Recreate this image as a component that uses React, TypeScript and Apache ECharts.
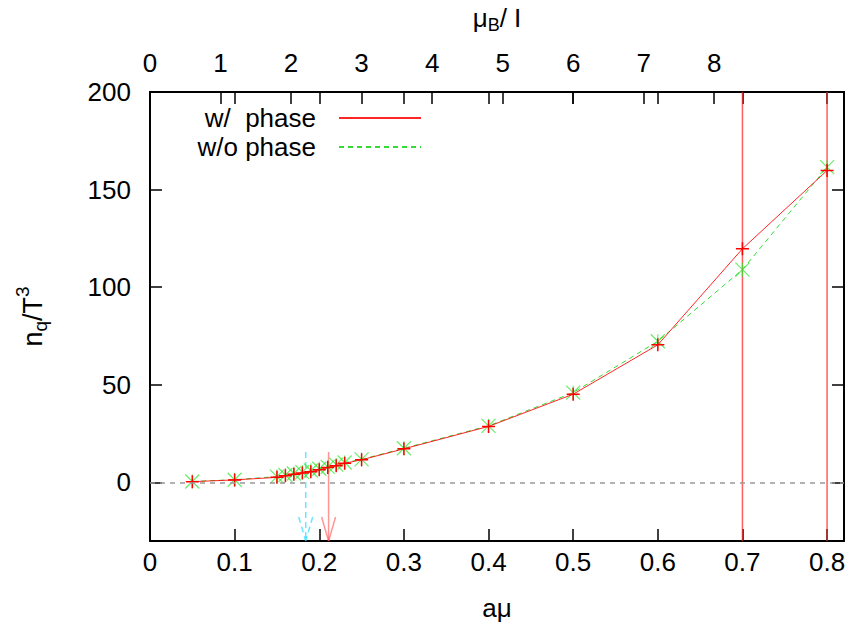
import React, { useEffect, useRef } from "react";
import * as echarts from "echarts";

// ---- data ----
const aMu = [0.05, 0.1, 0.15, 0.16, 0.17, 0.18, 0.19, 0.2, 0.21, 0.22, 0.23, 0.25, 0.3, 0.4, 0.5, 0.6, 0.7, 0.8];
const withPhase = [0.4, 1.3, 2.6, 3.4, 4.2, 4.8, 5.5, 6.5, 7.6, 8.6, 9.8, 11.6, 17.2, 28.7, 45.2, 70.5, 119.7, 159.8];
const withPhaseErr = [0, 0, 0, 0, 0, 0, 0, 0, 0, 0, 0, 0, 0, 0, 0, 0, 200, 250];
const withoutPhase = [0.5, 1.4, 3.0, 3.8, 4.6, 5.3, 6.1, 7.0, 8.0, 9.1, 10.2, 11.8, 17.5, 29.0, 46.0, 72.3, 109.0, 161.5];

const xTicks = [0, 0.1, 0.2, 0.3, 0.4, 0.5, 0.6, 0.7, 0.8];
const muBTicks = [0, 1, 2, 3, 4, 5, 6, 7, 8];
const yTicks = [0, 50, 100, 150, 200];
const xRange = [0, 0.82];
const yRange = [-30, 200];
const muBPerAMu = 12;

// critical-point arrows: x, top y
const arrowX = [0.184, 0.211];
const arrowTop = [15.6, 15.6];

const FONT = '"Liberation Sans", Arial, Helvetica, sans-serif';
const FS = 26;

export default function App() {
  const ref = useRef<HTMLDivElement>(null);

  useEffect(() => {
    document.body.style.margin = "0";
    if (!ref.current) return;
    const chart = echarts.init(ref.current, null, { renderer: "svg" });

    const axisLine = { show: true, onZero: false, lineStyle: { color: "#000", width: 2 } };
    const tickStyle = { color: "#000", width: 1.5 };
    const lblStyle = { fontSize: FS, color: "#000", fontFamily: FONT };

    const arrowColors = ["rgba(0,215,255,0.6)", "rgba(255,80,80,0.6)"];
    const arrowDash: any[] = [[6, 4], null];

    const option: any = {
      animation: false,
      backgroundColor: "#fff",
      grid: { left: 150, top: 91, width: 694, height: 450, containLabel: false },
      legend: {
        orient: "vertical",
        right: 425,
        top: 100,
        align: "right",
        itemWidth: 82,
        itemHeight: 10,
        itemGap: 3,
        selectedMode: false,
        data: ["w/  phase", "w/o phase"],
        textStyle: { fontSize: FS, fontFamily: FONT, color: "#000", padding: [0, 18, 0, 0], lineHeight: 26 },
        itemStyle: { color: "transparent", borderColor: "transparent", borderWidth: 0 },
      },
      xAxis: [
        {
          type: "value",
          min: xRange[0],
          max: xRange[1],
          position: "bottom",
          name: "aμ",
          nameLocation: "middle",
          nameGap: 54,
          nameTextStyle: { ...lblStyle },
          axisLine,
          axisTick: { show: true, inside: true, length: 12, lineStyle: tickStyle, customValues: xTicks },
          axisLabel: { ...lblStyle, margin: 8, customValues: xTicks, formatter: (v: number) => String(+v.toFixed(2)) },
          splitLine: { show: false },
        },
        {
          type: "value",
          min: xRange[0] * muBPerAMu,
          max: xRange[1] * muBPerAMu,
          position: "top",
          name: "μ{sub|B}/ I",
          nameLocation: "middle",
          nameGap: 58,
          nameTextStyle: {
            ...lblStyle,
            rich: { sub: { fontSize: 18, fontFamily: FONT, color: "#000", padding: [14, 0, 0, 0] } },
          },
          axisLine,
          axisTick: { show: true, inside: true, length: 12, lineStyle: tickStyle, customValues: muBTicks },
          axisLabel: { ...lblStyle, margin: 16, customValues: muBTicks },
          splitLine: { show: false },
        },
        {
          type: "value",
          min: xRange[0],
          max: xRange[1],
          position: "top",
          axisLine,
          axisTick: { show: true, inside: true, length: 12, lineStyle: tickStyle, customValues: xTicks },
          axisLabel: { show: false },
          splitLine: { show: false },
        },
      ],
      yAxis: [
        {
          type: "value",
          min: yRange[0],
          max: yRange[1],
          position: "left",
          name: "n{sub|q}/T{sup|3}",
          nameLocation: "middle",
          nameRotate: 90,
          nameGap: 98,
          nameTextStyle: {
            ...lblStyle,
            fontSize: 27,
            rich: {
              sub: { fontSize: 19, fontFamily: FONT, color: "#000", padding: [15, 0, 0, 0] },
              sup: { fontSize: 19, fontFamily: FONT, color: "#000", padding: [0, 0, 20, 0] },
            },
          },
          axisLine,
          axisTick: { show: true, inside: true, length: 12, lineStyle: tickStyle, customValues: yTicks },
          axisLabel: { ...lblStyle, margin: 19, customValues: yTicks },
          splitLine: { show: false },
        },
        {
          type: "value",
          min: yRange[0],
          max: yRange[1],
          position: "right",
          axisLine,
          axisTick: { show: true, inside: true, length: 12, lineStyle: tickStyle, customValues: yTicks },
          axisLabel: { show: false },
          splitLine: { show: false },
        },
      ],
      series: [
        {
          type: "custom",
          name: "arrows",
          xAxisIndex: 0,
          yAxisIndex: 0,
          silent: true,
          z: 1,
          data: arrowX.map((x, i) => [x, arrowTop[i], yRange[0]]),
          renderItem: (params: any, api: any) => {
            const x = api.value(0);
            const p1 = api.coord([x, api.value(1)]);
            const p2 = api.coord([x, api.value(2)]);
            const i = params.dataIndex;
            const style: any = { stroke: arrowColors[i], lineWidth: 1.5, fill: "none" };
            if (arrowDash[i]) style.lineDash = arrowDash[i];
            return {
              type: "group",
              children: [
                { type: "line", shape: { x1: p1[0], y1: p1[1], x2: p2[0], y2: p2[1] }, style },
                { type: "line", shape: { x1: p2[0] - 7, y1: p2[1] - 24, x2: p2[0], y2: p2[1] }, style },
                { type: "line", shape: { x1: p2[0] + 7, y1: p2[1] - 24, x2: p2[0], y2: p2[1] }, style },
              ],
            };
          },
        },
        {
          type: "custom",
          name: "errors",
          xAxisIndex: 0,
          yAxisIndex: 0,
          silent: true,
          z: 2,
          data: aMu
            .map((x, i) => [x, withPhase[i] - withPhaseErr[i], withPhase[i] + withPhaseErr[i], withPhaseErr[i]])
            .filter((d) => d[3] > 0),
          renderItem: (params: any, api: any) => {
            const cs = params.coordSys;
            const x = api.value(0);
            const lo = api.coord([x, api.value(1)]);
            const hi = api.coord([x, api.value(2)]);
            const clampY = (y: number) => Math.max(cs.y, Math.min(cs.y + cs.height, y));
            return {
              type: "line",
              shape: { x1: lo[0], y1: clampY(lo[1]), x2: hi[0], y2: clampY(hi[1]) },
              style: { stroke: "rgba(255,40,40,0.75)", lineWidth: 1.5 },
            };
          },
        },
        {
          type: "line",
          name: "w/o phase",
          xAxisIndex: 0,
          yAxisIndex: 0,
          z: 3,
          data: aMu.map((x, i) => [x, withoutPhase[i]]),
          symbol: "path://M0,0L10,10M10,0L0,10M5,0L5,10",
          symbolSize: 14,
          showSymbol: true,
          itemStyle: { color: "transparent", borderColor: "rgba(40,230,40,0.7)", borderWidth: 1.2 },
          lineStyle: { color: "rgba(0,210,0,0.8)", width: 1, type: [5, 4] },
          markLine: {
            silent: true,
            symbol: ["none", "none"],
            label: { show: false },
            lineStyle: { color: "#999", type: [5, 5], width: 1.5 },
            data: [{ yAxis: 0 }],
          },
        },
        {
          type: "line",
          name: "w/  phase",
          xAxisIndex: 0,
          yAxisIndex: 0,
          z: 4,
          data: aMu.map((x, i) => [x, withPhase[i]]),
          symbol: "path://M0,5L10,5M5,0L5,10",
          symbolSize: 13,
          showSymbol: true,
          itemStyle: { color: "transparent", borderColor: "#ff0000", borderWidth: 1.5 },
          lineStyle: { color: "rgba(255,0,0,0.85)", width: 1 },
        },
      ],
    };

    chart.setOption(option);
    return () => chart.dispose();
  }, []);

  return <div ref={ref} style={{ width: 852, height: 630 }} />;
}
